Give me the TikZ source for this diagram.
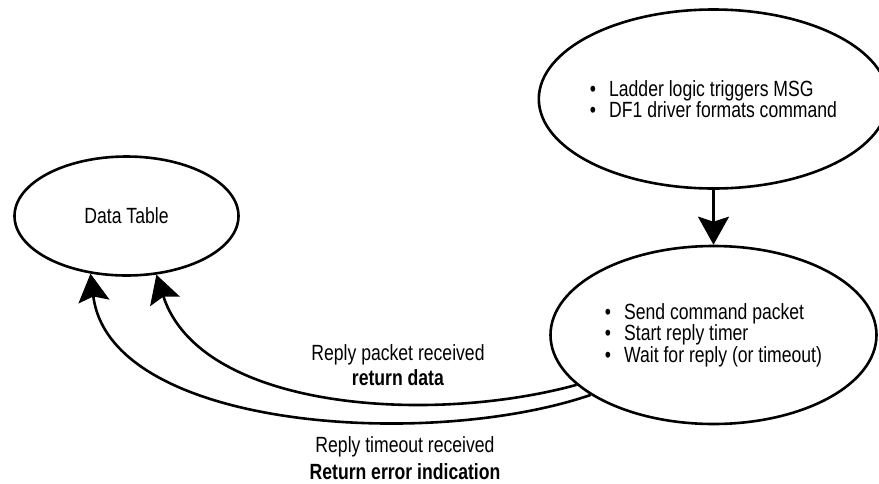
\documentclass[tikz,border=0pt]{standalone}
\usepackage{fontspec}
\setmainfont[FakeStretch=0.8]{Liberation Sans}
\usetikzlibrary{arrows.meta,shapes.geometric}
\newcommand{\bul}{\textbullet\hspace{13pt}}

\begin{document}
\begin{tikzpicture}[x=1pt, y=-1pt,
    bubble/.style={draw, ellipse, line width=2.6pt, inner sep=0pt, align=left, font=\fontsize{22}{21.5}\selectfont},
    flow/.style={line width=2.6pt, -{Stealth[length=28pt, width=31pt, inset=5pt]}},
    lbl/.style={align=center, font=\fontsize{22}{21.5}\selectfont}]
    \useasboundingbox (0,0) rectangle (879,483);
    % states
    \node[bubble, minimum width=326pt, minimum height=179pt] (cmd) at (713.5,99)
        {\bul Ladder logic triggers MSG\\ \bul DF1 driver formats command};
    \node[bubble, minimum width=326pt, minimum height=178pt] (send) at (713.5,335)
        {\bul Send command packet\\ \bul Start reply timer\\ \bul Wait for reply (or timeout)};
    \node[bubble, minimum width=224pt, minimum height=119pt] (data) at (126.5,216) {Data Table};
    % transitions
    \draw[flow] (cmd.south) -- (send.north);
    \draw[flow] (send.200.3) .. controls (430,425) and (200,410) .. (data.297.4);
    \draw[flow] (send.206.5) .. controls (430,450) and (110,430) .. (data.238.5);
    \node[lbl] (okmsg) at (398,365) {Reply packet received\\[3.5pt]\textbf{return data}};
    \node[lbl] (errmsg) at (405,458) {Reply timeout received\\[5.5pt]\textbf{Return error indication}};
\end{tikzpicture}
\end{document}
